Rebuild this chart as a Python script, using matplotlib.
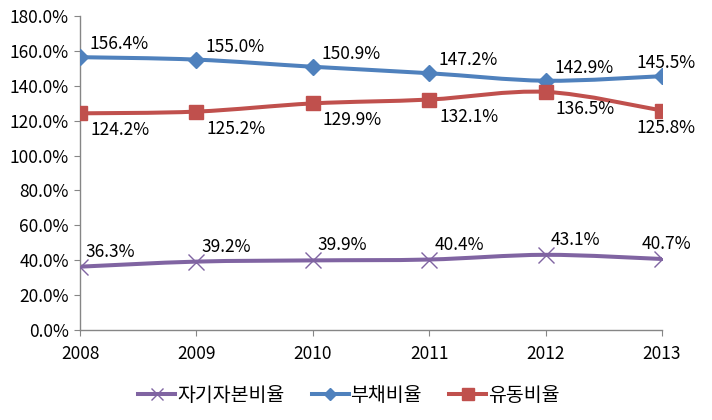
import numpy as np
import matplotlib.pyplot as plt
from matplotlib.path import Path
from matplotlib.patches import PathPatch
from matplotlib.lines import Line2D

plt.rcParams['font.family'] = ['Noto Sans CJK KR', 'DejaVu Sans']

years = [2008, 2009, 2010, 2011, 2012, 2013]
equity_ratio = [36.3, 39.2, 39.9, 40.4, 43.1, 40.7]      # 자기자본비율
debt_ratio = [156.4, 155.0, 150.9, 147.2, 142.9, 145.5]  # 부채비율
current_ratio = [124.2, 125.2, 129.9, 132.1, 136.5, 125.8]  # 유동비율
series_names = ['자기자본비율', '부채비율', '유동비율']
y_ticks = [0, 20, 40, 60, 80, 100, 120, 140, 160, 180]


def smooth_path(x, y):
    # excel style smoothed line: cubic bezier segments (catmull-rom control points)
    x = np.asarray(x, float)
    y = np.asarray(y, float)
    verts = [(x[0], y[0])]
    codes = [Path.MOVETO]
    n = len(x)
    for i in range(n - 1):
        p0 = (x[max(i - 1, 0)], y[max(i - 1, 0)])
        p1 = (x[i], y[i])
        p2 = (x[i + 1], y[i + 1])
        p3 = (x[min(i + 2, n - 1)], y[min(i + 2, n - 1)])
        c1 = (p1[0] + (p2[0] - p0[0]) / 6, p1[1] + (p2[1] - p0[1]) / 6)
        c2 = (p2[0] - (p3[0] - p1[0]) / 6, p2[1] - (p3[1] - p1[1]) / 6)
        verts += [c1, c2, p2]
        codes += [Path.CURVE4] * 3
    return Path(verts, codes)


fig = plt.figure(figsize=(7.12, 4.2), dpi=100)
ax = fig.add_axes([0.1124, 0.2143, 0.8174, 0.7476])

styles = [
    (equity_ratio, '#8064A2', 'x', 11, 1.0, (5, 15)),
    (debt_ratio, '#4F81BD', 'D', 8, 1.0, (9, 13)),
    (current_ratio, '#C0504D', 's', 10, 1.0, (10, -17)),
]

handles = []
for (vals, color, marker, ms, mew, off), name in zip(styles, series_names):
    ax.add_patch(PathPatch(smooth_path(years, vals), facecolor='none',
                           edgecolor=color, lw=2.9, zorder=2, capstyle='round'))
    ax.plot(years, vals, linestyle='none', marker=marker, markersize=ms,
            color=color, markeredgecolor=color, markeredgewidth=mew, zorder=3)
    for i, (xv, yv) in enumerate(zip(years, vals)):
        dx, dy = off
        ha = 'left'
        if i == len(years) - 1:
            dx, ha = 4, 'center'
        ax.annotate(f'{yv:.1f}%', (xv, yv), xytext=(dx * 0.72, dy * 0.72),
                    textcoords='offset points', ha=ha, va='center',
                    fontsize=12.5, color='black', zorder=4)
    handles.append(Line2D([], [], color=color, lw=2.9, marker=marker,
                          markersize=ms * 0.8, markeredgewidth=mew,
                          markeredgecolor=color, label=name))

ax.set_xlim(2008, 2013)
ax.set_ylim(0, 180)
ax.set_xticks(years)
ax.set_xticklabels([str(y) for y in years])
ax.set_yticks(y_ticks)
ax.set_yticklabels([f'{t:.1f}%' for t in y_ticks])

for side in ['top', 'right']:
    ax.spines[side].set_visible(False)
for side in ['left', 'bottom']:
    ax.spines[side].set_color('#868686')
    ax.spines[side].set_linewidth(1)
ax.tick_params(axis='both', direction='out', length=4, color='#868686',
               labelsize=12.5, labelcolor='black')
ax.tick_params(axis='x', pad=7)
ax.tick_params(axis='y', pad=4)

fig.legend(handles=handles, loc='center', bbox_to_anchor=(0.49, 0.058),
           ncol=3, frameon=False, fontsize=14, handlelength=1.9,
           columnspacing=1.4, handletextpad=0.1)

fig.savefig('out.png', dpi=100)
